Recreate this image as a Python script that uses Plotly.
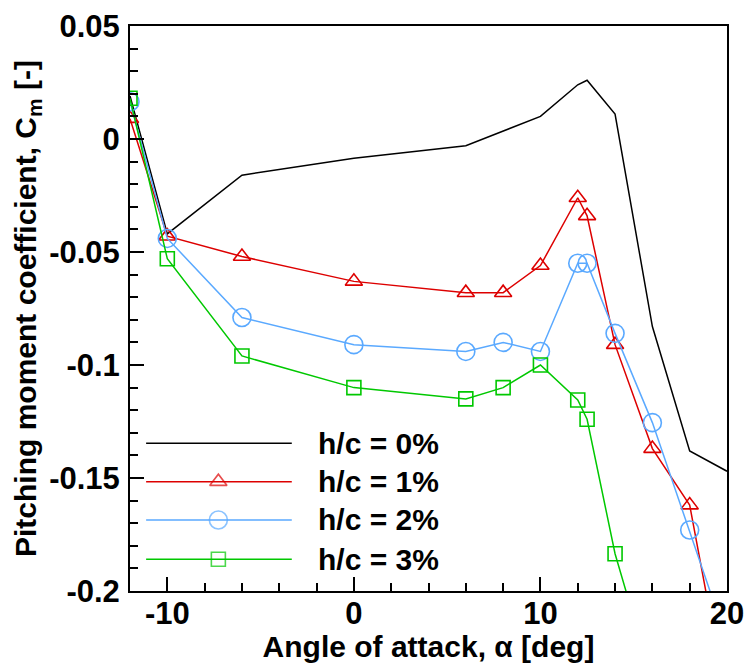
import plotly.graph_objects as go

# ---------------- data ----------------
alpha_0 = [-12, -10, -6, 0, 6, 10, 12, 12.5, 14, 16, 18, 20]
cm_0 = [0.019, -0.042, -0.016, -0.0085, -0.003, 0.010, 0.024, 0.026, 0.011, -0.083, -0.138, -0.147]

alpha_1 = [-12, -10, -6, 0, 6, 8, 10, 12, 12.5, 14, 16, 18, 20]
cm_1 = [0.009, -0.043, -0.052, -0.063, -0.068, -0.068, -0.056, -0.026, -0.034, -0.091, -0.137, -0.162, -0.25]

alpha_2 = [-12, -10, -6, 0, 6, 8, 10, 12, 12.5, 14, 16, 18, 20]
cm_2 = [0.0165, -0.044, -0.079, -0.091, -0.094, -0.090, -0.094, -0.055, -0.055, -0.086, -0.1255, -0.173, -0.222]

alpha_3 = [-12, -10, -6, 0, 6, 8, 10, 12, 12.5, 14, 16]
cm_3 = [0.018, -0.053, -0.096, -0.110, -0.115, -0.110, -0.100, -0.1155, -0.124, -0.1835, -0.24]

series_names = ["h/c = 0%", "h/c = 1%", "h/c = 2%", "h/c = 3%"]

x_tickvals = [-10, 0, 10, 20]
x_ticktext = ["-10", "0", "10", "20"]
y_tickvals = [0.05, 0, -0.05, -0.1, -0.15, -0.2]
y_ticktext = ["0.05", "0", "-0.05", "-0.1", "-0.15", "-0.2"]

# ---------------- styles ----------------
FONT = "Liberation Sans, Arial, Helvetica, sans-serif"
colors = ["#000000", "#dd0000", "#5aa9ff", "#00c800"]
symbols = [None, "triangle-up-open", "circle-open", "square-open"]
sizes = [0, 15, 18, 14]

xs = [alpha_0, alpha_1, alpha_2, alpha_3]
ys = [cm_0, cm_1, cm_2, cm_3]

fig = go.Figure()

for i in range(4):
    if symbols[i] is None:
        fig.add_trace(go.Scatter(x=xs[i], y=ys[i], mode="lines",
                                 line=dict(color=colors[i], width=1.5),
                                 showlegend=False, name=series_names[i]))
    else:
        fig.add_trace(go.Scatter(x=xs[i], y=ys[i], mode="lines+markers",
                                 line=dict(color=colors[i], width=1.5),
                                 marker=dict(symbol=symbols[i], size=sizes[i],
                                             color=colors[i], line=dict(width=1.6, color=colors[i])),
                                 showlegend=False, name=series_names[i]))

# ---------------- manual legend on overlay axes (0..1 paper-like) ----------------
leg_x0, leg_xm, leg_x1, leg_xt = 0.027, 0.148, 0.271, 0.311
leg_rows = [0.2614, 0.1935, 0.1257, 0.0561]
for i in range(4):
    r = leg_rows[i]
    if symbols[i] is None:
        fig.add_trace(go.Scatter(x=[leg_x0, leg_x1], y=[r, r], mode="lines",
                                 line=dict(color=colors[i], width=1.5),
                                 xaxis="x2", yaxis="y2", showlegend=False, hoverinfo="skip"))
    else:
        fig.add_trace(go.Scatter(x=[leg_x0, leg_xm, leg_x1], y=[r, r, r], mode="lines+markers",
                                 line=dict(color=colors[i], width=1.5),
                                 marker=dict(symbol=symbols[i], size=[0, sizes[i], 0],
                                             color=colors[i], line=dict(width=1.6, color=colors[i])),
                                 xaxis="x2", yaxis="y2", showlegend=False, hoverinfo="skip"))
    fig.add_annotation(x=leg_xt, y=r, xref="x2", yref="y2", text=series_names[i],
                       showarrow=False, xanchor="left", yanchor="middle",
                       font=dict(family=FONT, size=30, color="black", weight="bold"))

fig.update_layout(
    width=747, height=663,
    margin=dict(l=130, r=20, t=26, b=72),
    paper_bgcolor="white", plot_bgcolor="white",
    showlegend=False,
    font=dict(family=FONT, color="black", size=30, weight="bold"),
    xaxis=dict(
        range=[-12, 20], tickvals=x_tickvals, ticktext=x_ticktext,
        ticks="inside", ticklen=14, tickwidth=1.5, tickcolor="black",
        minor=dict(dtick=2, tick0=0, ticks="inside", ticklen=8, tickwidth=1.5, tickcolor="black"),
        showline=True, linewidth=2, linecolor="black", mirror=True,
        showgrid=False, zeroline=False,
        ticklabelstandoff=-6,
        tickfont=dict(family=FONT, size=31, weight="bold"),
        title=dict(text="Angle of attack, α [deg]", standoff=0,
                   font=dict(family=FONT, size=30, weight="bold")),
        automargin=False,
    ),
    yaxis=dict(
        range=[-0.2, 0.05], tickvals=y_tickvals, ticktext=y_ticktext,
        ticks="inside", ticklen=14, tickwidth=1.5, tickcolor="black",
        minor=dict(dtick=0.01, tick0=0, ticks="inside", ticklen=8, tickwidth=1.5, tickcolor="black"),
        showline=True, linewidth=2, linecolor="black", mirror=True,
        showgrid=False, zeroline=False,
        ticklabelstandoff=2,
        tickfont=dict(family=FONT, size=31, weight="bold"),
        title=dict(text="Pitching moment coefficient, C<sub>m</sub> [-]", standoff=4,
                   font=dict(family=FONT, size=30, weight="bold")),
        automargin=False,
    ),
    xaxis2=dict(range=[0, 1], overlaying="x", visible=False, fixedrange=True),
    yaxis2=dict(range=[0, 1], overlaying="y", visible=False, fixedrange=True),
)

fig.write_html("out.html")
